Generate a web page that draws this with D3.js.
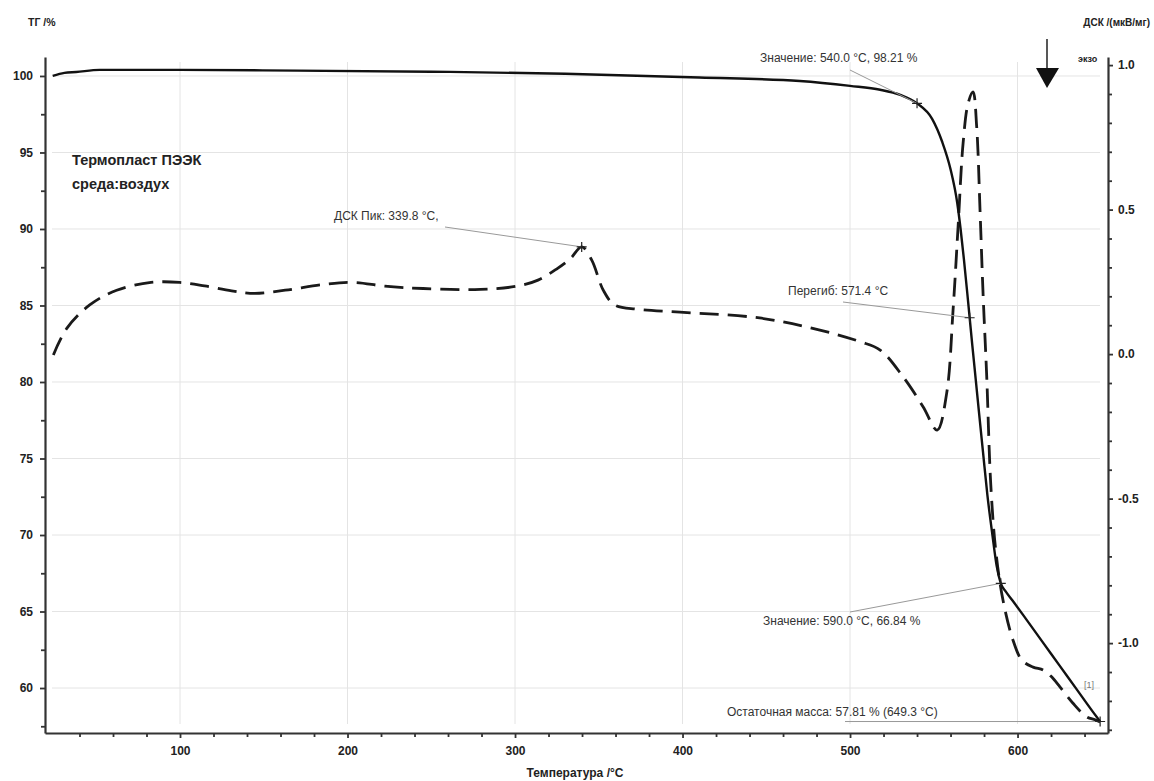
<!DOCTYPE html>
<html>
<head>
<meta charset="utf-8">
<script src="https://cdn.jsdelivr.net/npm/d3@7"></script>
<style>
  html, body { margin: 0; padding: 0; background: #fff; }
  svg { display: block; }
  .tick text { font-family: "Liberation Sans", Arial, sans-serif; font-weight: bold; font-size: 12px; fill: #222; }
  .ann { font-family: "Liberation Sans", Arial, sans-serif; font-size: 12px; fill: #333; }
</style>
</head>
<body>
<svg id="chart" width="1154" height="781"></svg>
<script>
// TG curve: temperature (°C) and residual mass (%)
const tgTemp = [24, 31, 38, 52, 100, 170, 250, 330, 410, 470, 500, 518, 530, 540, 549, 555, 560, 564, 566, 568, 570, 571.4, 573, 575, 577, 579.4, 582, 585, 587.5, 590, 593, 597, 605, 615, 625, 635, 645, 649.3];
const tgMass = [100.0, 100.2, 100.26, 100.4, 100.4, 100.35, 100.28, 100.15, 99.9, 99.67, 99.35, 99.1, 98.76, 98.21, 97.2, 95.7, 93.9, 91.7, 90.0, 88.0, 85.8, 84.2, 82.4, 80.2, 78.0, 75.4, 72.6, 70.0, 68.0, 66.84, 66.3, 65.72, 64.52, 63.0, 61.48, 59.96, 58.44, 57.81];

// DSC curve: temperature (°C) and signal (мкВ/мг)
const dscTemp = [24.4, 32.4, 46.1, 62.2, 82.7, 99.9, 114.7, 130.8, 144.5, 162.8, 185.7, 204, 222.3, 245.1, 279.4, 301.2, 313.7, 325.2, 333, 339.8, 345.8, 352.7, 359.5, 373.3, 398.5, 446, 482, 506, 518, 531.6, 543.6, 552, 557.7, 561.5, 564.5, 567.5, 570.5, 573.4, 575.6, 577.6, 579.4, 581.6, 584, 587, 591.3, 597.3, 602.6, 609.3, 615.3, 620, 625.4, 633.1, 641.5, 646.3, 649.3];
const dscVal = [-0.003, 0.089, 0.170, 0.221, 0.248, 0.248, 0.236, 0.219, 0.210, 0.221, 0.241, 0.248, 0.235, 0.227, 0.224, 0.235, 0.256, 0.296, 0.33, 0.371, 0.325, 0.221, 0.170, 0.155, 0.145, 0.125, 0.083, 0.043, 0.014, -0.078, -0.182, -0.263, -0.135, 0.152, 0.44, 0.73, 0.868, 0.907, 0.787, 0.498, 0.211, -0.078, -0.45, -0.68, -0.851, -0.99, -1.059, -1.083, -1.093, -1.115, -1.152, -1.208, -1.256, -1.265, -1.273];

// Tick values
const tempTicks = [100, 200, 300, 400, 500, 600];
const tempMinor = d3.range(40, 660, 20).filter(v => v % 100 !== 0);
const tgTicks = [60, 65, 70, 75, 80, 85, 90, 95, 100];
const tgMinor = [57.5, 62.5, 67.5, 72.5, 77.5, 82.5, 87.5, 92.5, 97.5];
const dscTicks = [-1.0, -0.5, 0.0, 0.5, 1.0];
const dscMinor = d3.range(-13, 11).map(v => v / 10).filter(v => Math.abs(v * 10) % 5 !== 0);

// Annotated points
const tgMarks = [[540.0, 98.21], [571.4, 84.2], [590.0, 66.84], [649.3, 57.81]];
const dscPeak = [339.8, 0.371];

const svg = d3.select("#chart");
const L = 45, R = 1108, T = 57, B = 733;

const x = d3.scaleLinear().domain([19.4, 654.0]).range([L, R]);
const yTG = d3.scaleLinear().domain([57.06, 101.24]).range([B, T]);
const yDSC = d3.scaleLinear().domain([-1.311, 1.028]).range([B, T]);

// grid
const grid = svg.append("g").attr("stroke", "#e4e4e4").attr("stroke-width", 1);
grid.selectAll("line.h").data(tgTicks).join("line")
  .attr("x1", 52).attr("x2", 1100)
  .attr("y1", d => yTG(d)).attr("y2", d => yTG(d));
grid.selectAll("line.v").data(tempTicks).join("line")
  .attr("x1", d => x(d)).attr("x2", d => x(d))
  .attr("y1", 62).attr("y2", 724);

// axes
function styleAxis(g) {
  g.select(".domain").attr("stroke", "#333").attr("stroke-width", 2.2);
  g.selectAll(".tick line").attr("stroke", "#333").attr("stroke-width", 1.8);
}
const axB = svg.append("g").attr("transform", `translate(0,${B})`)
  .call(d3.axisBottom(x).tickValues(tempTicks).tickSize(5).tickPadding(8).tickSizeOuter(0).tickFormat(d3.format("d")));
styleAxis(axB);
svg.append("g").attr("transform", `translate(0,${B})`)
  .call(d3.axisBottom(x).tickValues(tempMinor).tickSize(4).tickFormat("").tickSizeOuter(0))
  .call(g => { g.select(".domain").remove(); g.selectAll(".tick line").attr("stroke", "#333").attr("stroke-width", 1.8); });

const axL = svg.append("g").attr("transform", `translate(${L},0)`)
  .call(d3.axisLeft(yTG).tickValues(tgTicks).tickSize(5).tickPadding(7).tickSizeOuter(0).tickFormat(d3.format("d")));
styleAxis(axL);
svg.append("g").attr("transform", `translate(${L},0)`)
  .call(d3.axisLeft(yTG).tickValues(tgMinor).tickSize(4).tickFormat("").tickSizeOuter(0))
  .call(g => { g.select(".domain").remove(); g.selectAll(".tick line").attr("stroke", "#333").attr("stroke-width", 1.8); });

const axR = svg.append("g").attr("transform", `translate(${R},0)`)
  .call(d3.axisRight(yDSC).tickValues(dscTicks).tickSize(5).tickPadding(5).tickSizeOuter(0).tickFormat(d => d.toFixed(1)));
styleAxis(axR);
svg.append("g").attr("transform", `translate(${R},0)`)
  .call(d3.axisRight(yDSC).tickValues(dscMinor).tickSize(4).tickFormat("").tickSizeOuter(0))
  .call(g => { g.select(".domain").remove(); g.selectAll(".tick line").attr("stroke", "#333").attr("stroke-width", 1.8); });

// axis titles
const fontB = "Liberation Sans, Arial, sans-serif";
svg.append("text").attr("x", 28).attr("y", 26).attr("font-family", fontB).attr("font-weight", "bold")
  .attr("font-size", 10.5).attr("fill", "#222").text("ТГ /%");
svg.append("text").attr("x", 1150).attr("y", 26).attr("text-anchor", "end").attr("font-family", fontB)
  .attr("font-weight", "bold").attr("font-size", 10).attr("fill", "#222").text("ДСК /(мкВ/мг)");
svg.append("text").attr("x", 575).attr("y", 777).attr("text-anchor", "middle").attr("font-family", fontB)
  .attr("font-weight", "bold").attr("font-size", 12).attr("fill", "#222").text("Температура /°C");
svg.append("text").attr("x", 1078).attr("y", 62).attr("font-family", fontB).attr("font-weight", "bold")
  .attr("font-size", 9).attr("fill", "#222").text("экзо");

// exo arrow
svg.append("line").attr("x1", 1047).attr("x2", 1047).attr("y1", 39).attr("y2", 70).attr("stroke", "#111").attr("stroke-width", 1.4);
svg.append("path").attr("d", "M1036,68 L1059,68 L1047,88 Z").attr("fill", "#111");

// sample caption
svg.append("text").attr("x", 72).attr("y", 165).attr("font-family", fontB).attr("font-weight", "bold")
  .attr("font-size", 14.5).attr("fill", "#222").text("Термопласт ПЭЭК");
svg.append("text").attr("x", 72).attr("y", 189).attr("font-family", fontB).attr("font-weight", "bold")
  .attr("font-size", 14.5).attr("fill", "#222").text("среда:воздух");

// curves
const tgData = tgTemp.map((t, i) => [t, tgMass[i]]);
const dscData = dscTemp.map((t, i) => [t, dscVal[i]]);

svg.append("path").datum(dscData)
  .attr("fill", "none").attr("stroke", "#1a1a1a").attr("stroke-width", 2.8)
  .attr("stroke-dasharray", "19,9")
  .attr("d", d3.line().x(d => x(d[0])).y(d => yDSC(d[1])).curve(d3.curveCatmullRom.alpha(0.5)));

svg.append("path").datum(tgData)
  .attr("fill", "none").attr("stroke", "#111").attr("stroke-width", 2.4)
  .attr("d", d3.line().x(d => x(d[0])).y(d => yTG(d[1])).curve(d3.curveMonotoneX));

// annotations: leader lines and labels
const ann = svg.append("g");
function leader(x1, y1, x2, y2) {
  ann.append("line").attr("x1", x1).attr("y1", y1).attr("x2", x2).attr("y2", y2)
    .attr("stroke", "#999").attr("stroke-width", 1);
}
function label(tx, ty, s) {
  ann.append("text").attr("class", "ann").attr("x", tx).attr("y", ty).text(s);
}
function cross(cx, cy) {
  ann.append("path").attr("d", `M${cx - 5},${cy} H${cx + 5} M${cx},${cy - 5} V${cy + 5}`)
    .attr("stroke", "#222").attr("stroke-width", 1.2);
}

const p540 = [x(tgMarks[0][0]), yTG(tgMarks[0][1])];
const p571 = [x(tgMarks[1][0]), yTG(tgMarks[1][1])];
const p590 = [x(tgMarks[2][0]), yTG(tgMarks[2][1])];
const pEnd = [x(tgMarks[3][0]), yTG(tgMarks[3][1])];
const pPeak = [x(dscPeak[0]), yDSC(dscPeak[1])];

leader(850, 70, p540[0], p540[1]);
label(760, 62, "Значение: 540.0 °C, 98.21 %");
cross(p540[0], p540[1]);

leader(445, 227, pPeak[0], pPeak[1]);
label(334, 220, "ДСК Пик: 339.8 °C,");
cross(pPeak[0], pPeak[1]);

leader(843, 302, p571[0], p571[1]);
label(788, 295, "Перегиб: 571.4 °C");
cross(p571[0], p571[1]);

leader(850, 612, p590[0], p590[1]);
label(763, 625, "Значение: 590.0 °C, 66.84 %");
cross(p590[0], p590[1]);

leader(845, pEnd[1], pEnd[0], pEnd[1]);
label(727, 716, "Остаточная масса: 57.81 % (649.3 °C)");
cross(pEnd[0], pEnd[1]);

ann.append("text").attr("x", 1084).attr("y", 688).attr("font-family", fontB)
  .attr("font-size", 9).attr("fill", "#777").text("[1]");
</script>
</body>
</html>
